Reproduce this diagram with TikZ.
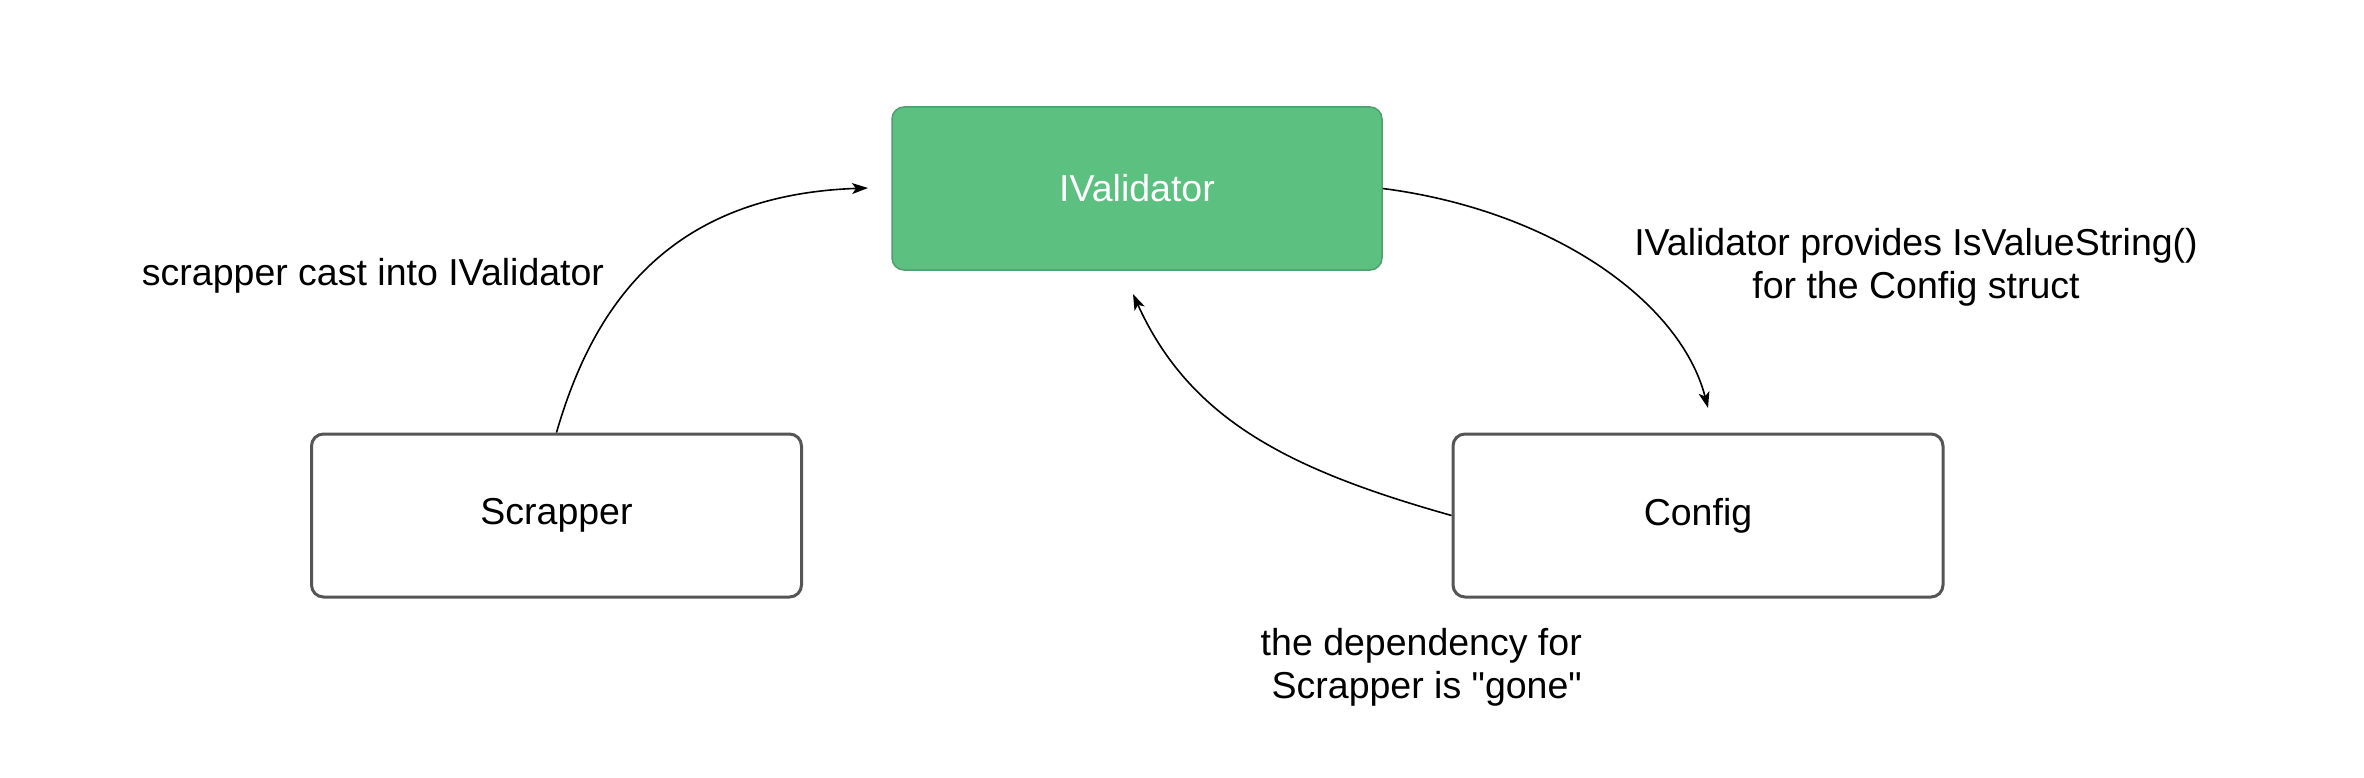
\documentclass[tikz,border=0pt]{standalone}
\usepackage{fontspec}
\setmainfont{Liberation Sans}[Ligatures=TeXOff]
\usetikzlibrary{arrows.meta}
\definecolor{boxgreen}{HTML}{5BC080}
\definecolor{boxgreenline}{HTML}{4F9F6E}
\definecolor{boxgray}{HTML}{555555}
\begin{document}
\begin{tikzpicture}[x=1pt,y=-1pt,
  every node/.style={font=\fontsize{37.5pt}{43pt}\selectfont},
  plainbox/.style={draw=boxgray,line width=3pt,fill=white,rounded corners=12pt,
    minimum width=490pt,minimum height=163pt,inner sep=0pt},
  greenbox/.style={draw=boxgreenline,line width=1.5pt,fill=boxgreen,rounded corners=12pt,
    minimum width=490pt,minimum height=163pt,inner sep=0pt,text=white},
  lbl/.style={inner sep=0pt,align=center},
  conn/.style={line width=1.6pt,-{Stealth[length=16pt,width=11pt,inset=4pt]}}]
\useasboundingbox (0,0) rectangle (2364,778);
\fill[white] (0,0) rectangle (2364,778);
\node[greenbox] (iv) at (1137,188.5) {IValidator};
\node[plainbox] (scr) at (556.5,515.5) {Scrapper};
\node[plainbox] (cfg) at (1698,515.5) {Config};
\coordinate (e1) at (868,188);
\coordinate (e2) at (1708,408);
\coordinate (e3) at (1133,294);
\draw[conn] (scr.north) .. controls (592,310) and (665,195) .. (e1);
\draw[conn] (iv.east) .. controls (1550,210) and (1680,300) .. (e2);
\draw[conn] (cfg.west) .. controls (1290,470) and (1190,420) .. (e3);
\node[lbl] (t1) at (373,276) {scrapper cast into IValidator};
\node[lbl] (t2) at (1916,267) {IValidator provides IsValueString()\\for the Config struct};
\node[lbl,align=right,anchor=east] (t3) at (1582,667) {the dependency for\\Scrapper is "gone"};
\end{tikzpicture}
\end{document}
